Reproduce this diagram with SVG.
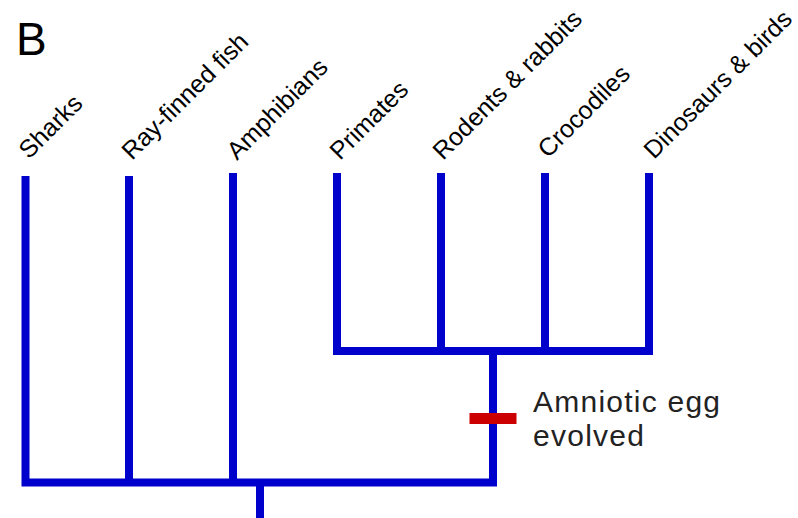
<svg xmlns="http://www.w3.org/2000/svg" width="798" height="518" viewBox="0 0 798 518">
<style>
.br{stroke:#0000cc;stroke-width:8;fill:none;stroke-linecap:butt;stroke-linejoin:miter}
.lbl{font-family:"Liberation Sans",Arial,sans-serif;font-size:25px;fill:#000}
.note{font-family:"Liberation Sans",Arial,sans-serif;font-size:30px;fill:#222}
</style>
<rect width="798" height="518" fill="#fff"/>
<text x="16" y="55" style="font-family:'Liberation Sans',Arial,sans-serif;font-size:46px;fill:#000">B</text>
<g id="connectors">
<path class="br" d="M25.5,176 V482.5 H493 V351"/>
<path class="br" d="M129,176 V482.5"/>
<path class="br" d="M233,173 V482.5"/>
<path class="br" d="M260,482.5 V518"/>
<path class="br" d="M337,173 V351 H649 V173"/>
<path class="br" d="M441,173 V351"/>
<path class="br" d="M545,173 V351"/>
</g>
<g id="n-sharks"><text class="lbl" transform="translate(29,160) rotate(-45)">Sharks</text></g>
<g id="n-rayfinned"><text class="lbl" transform="translate(132,161) rotate(-45)">Ray-finned fish</text></g>
<g id="n-amphibians"><text class="lbl" transform="translate(237,161) rotate(-45)">Amphibians</text></g>
<g id="n-primates"><text class="lbl" transform="translate(340,161) rotate(-45)">Primates</text></g>
<g id="n-rodents"><text class="lbl" transform="translate(443,161) rotate(-45)">Rodents &amp; rabbits</text></g>
<g id="n-crocodiles"><text class="lbl" transform="translate(548,159) rotate(-45)">Crocodiles</text></g>
<g id="n-dinosaurs"><text class="lbl" transform="translate(654,160) rotate(-45)">Dinosaurs &amp; birds</text></g>
<g id="amniotic-egg">
<rect x="469.5" y="413" width="47" height="11" fill="#cc0000"/>
<text class="note" x="533" y="412" textLength="187" lengthAdjust="spacing">Amniotic egg</text>
<text class="note" x="533" y="446" textLength="111" lengthAdjust="spacing">evolved</text>
</g>
</svg>
